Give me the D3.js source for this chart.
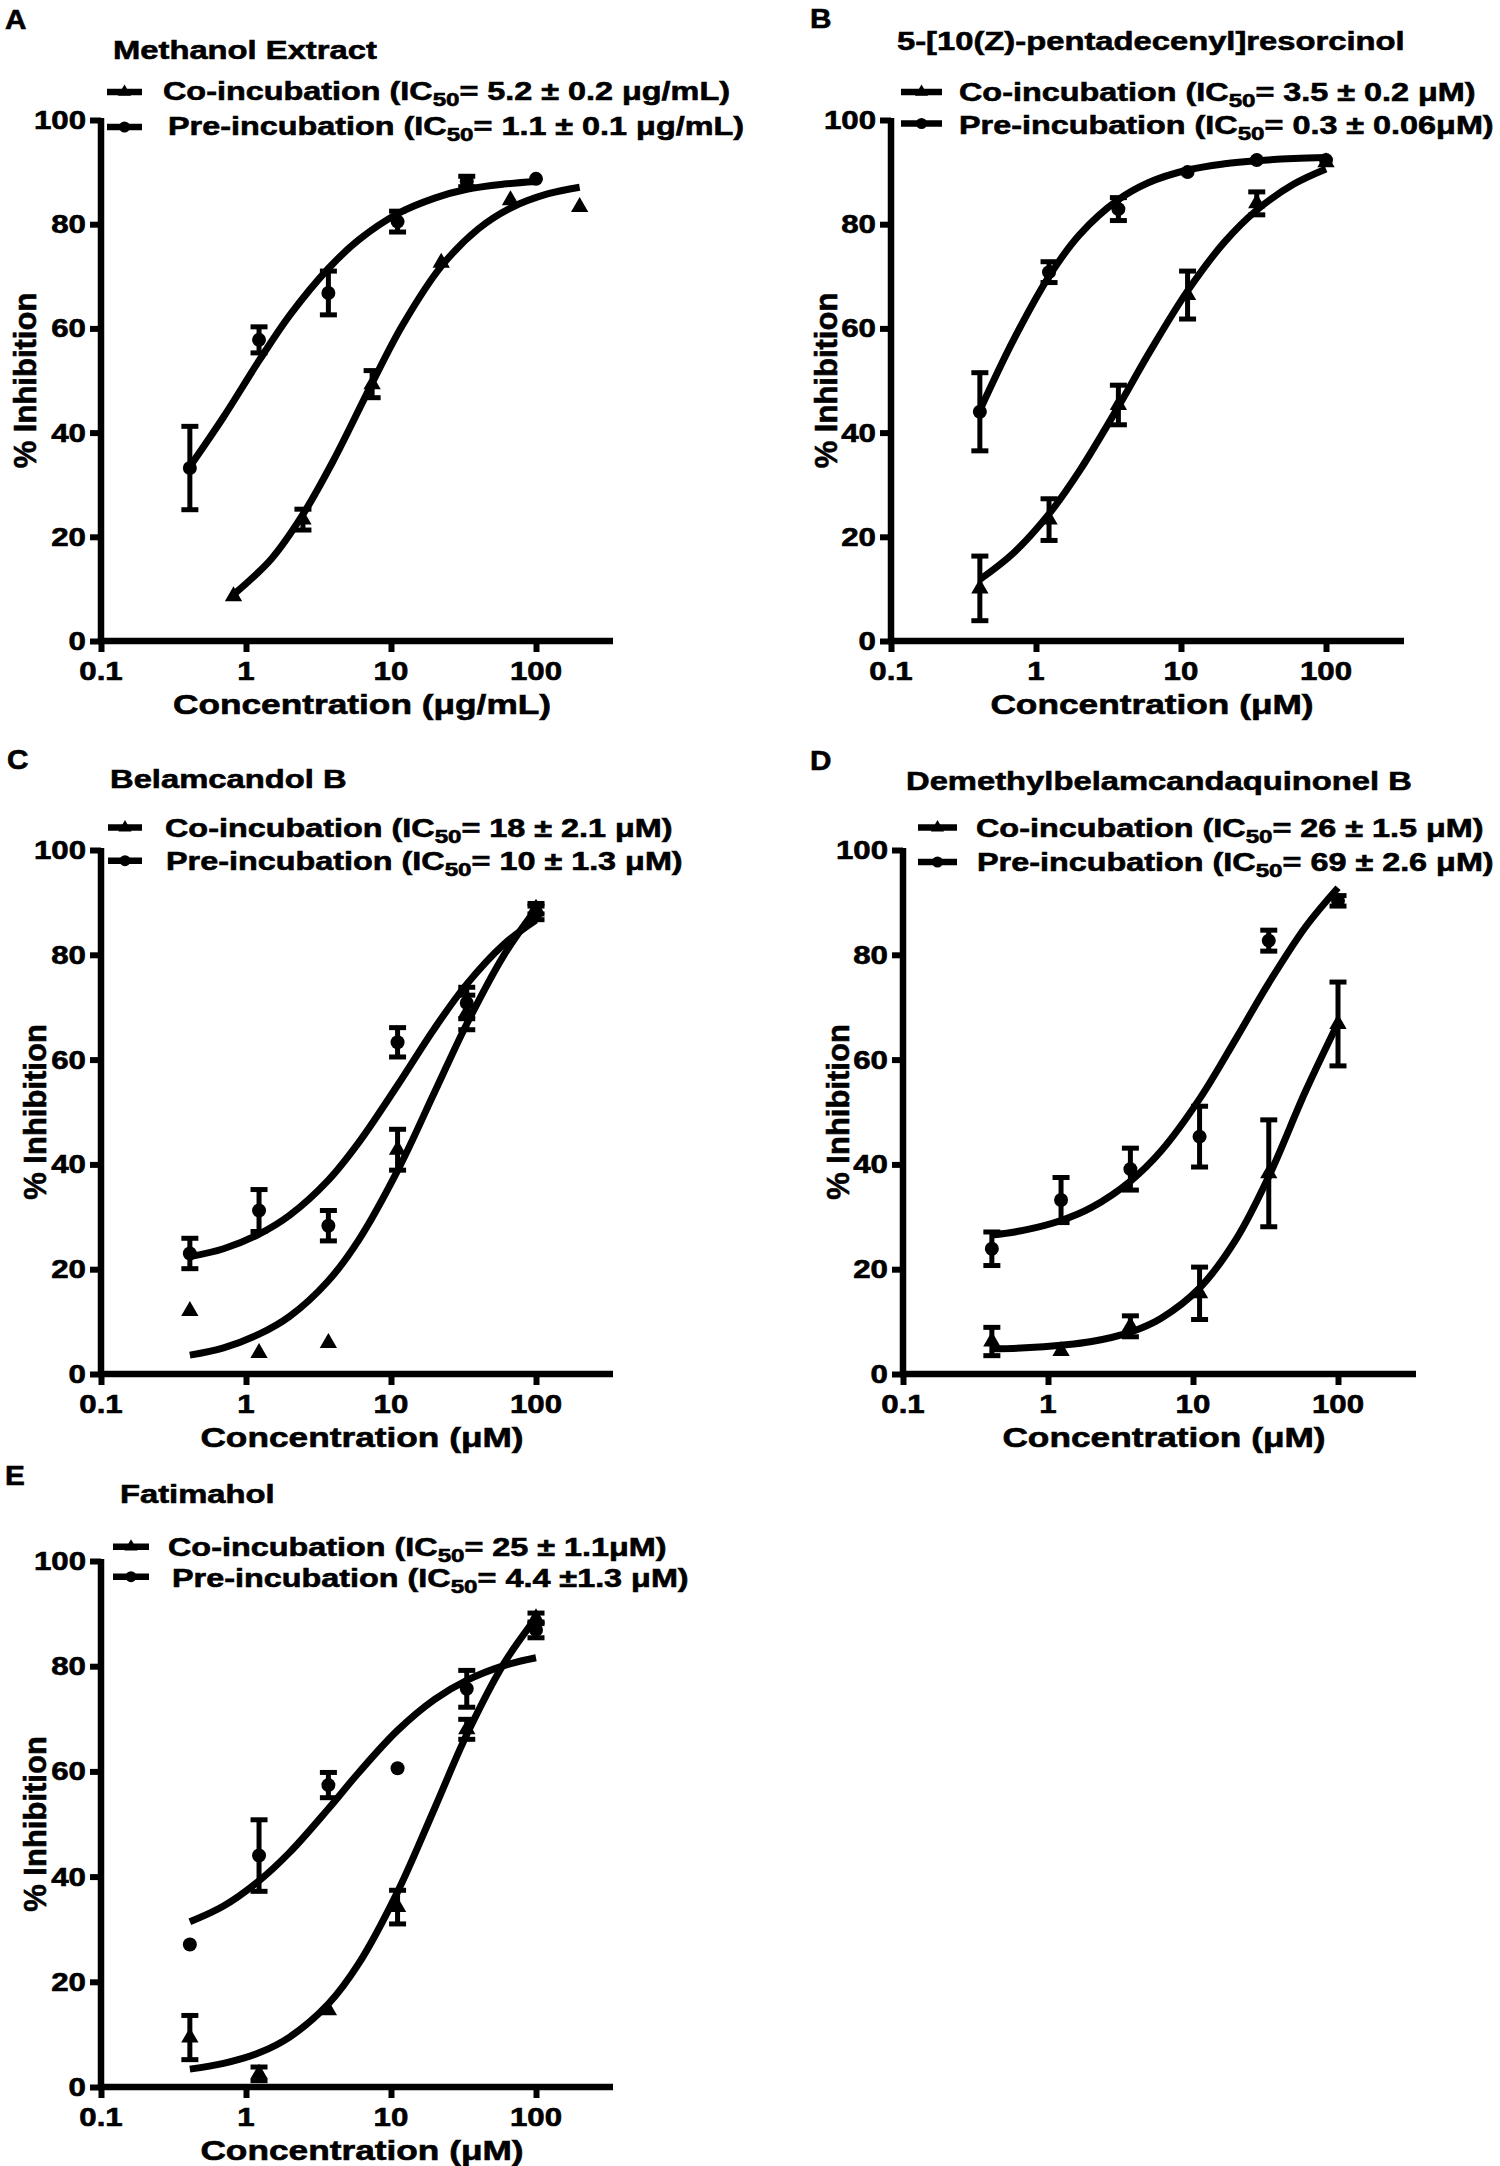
<!DOCTYPE html>
<html>
<head>
<meta charset="utf-8">
<script src="https://cdn.jsdelivr.net/npm/d3@7"></script>
<style>
  body { margin: 0; background: #fff; }
  text { font-family: "Liberation Sans", Arial, sans-serif; font-weight: bold; fill: #000; stroke: #000; stroke-width: 0.6px; }
</style>
</head>
<body>
<svg id="svg" width="1500" height="2166"></svg>
<script>
// concentrations (3-fold dilution series)
const concPre = [0.41, 1.23, 3.7, 11.1, 33.3, 100];
const concCoA = [0.82, 2.47, 7.41, 22.2, 66.7, 200];
const fitConc = [0.41, 0.7, 1.23, 2, 3.7, 6, 11.1, 20, 33.3, 60, 100];
const fitConcCoA = [0.82, 1.5, 2.47, 4, 7.41, 12, 22.2, 40, 66.7, 120, 200];

const panelLetters = ["A", "B", "C", "D", "E"];
const panelTitles = ["Methanol Extract", "5-[10(Z)-pentadecenyl]resorcinol", "Belamcandol B",
  "Demethylbelamcandaquinonel B", "Fatimahol"];
const coIC50 = ["5.2 \u00b1 0.2 \u03bcg/mL)", "3.5 \u00b1 0.2 \u03bcM)", "18 \u00b1 2.1 \u03bcM)",
  "26 \u00b1 1.5 \u03bcM)", "25 \u00b1 1.1\u03bcM)"];
const preIC50 = ["1.1 \u00b1 0.1 \u03bcg/mL)", "0.3 \u00b1 0.06\u03bcM)", "10 \u00b1 1.3 \u03bcM)",
  "69 \u00b1 2.6 \u03bcM)", "4.4 \u00b11.3 \u03bcM)"];
const xTitles = ["Concentration (\u03bcg/mL)", "Concentration (\u03bcM)", "Concentration (\u03bcM)",
  "Concentration (\u03bcM)", "Concentration (\u03bcM)"];
const xTicks = [0.1, 1, 10, 100];
const yTicks = [0, 20, 40, 60, 80, 100];

// % inhibition, mean and error
const aPre = [33.2, 57.8, 66.8, 80.5, 88.2, 88.7];
const aPreErr = [8, 2.5, 4.2, 2, 1, 0];
const aCo = [8.6, 23.3, 49.3, 72.6, 84.6, 83.3];
const aCoErr = [0, 2, 2.6, 0, 0, 0];
const bPre = [44, 70.8, 82.9, 90, 92.3, 92.3];
const bPreErr = [7.5, 2, 2.2, 0, 0, 0];
const bCo = [10.1, 23.3, 45.3, 66.4, 84, 91.9];
const bCoErr = [6.2, 4, 3.8, 4.6, 2.2, 0];
const cPre = [23, 31.2, 28.3, 63.3, 70.8, 88];
const cPreErr = [2.9, 4, 2.9, 2.8, 3, 1.3];
const cCo = [12, 4, 5.9, 42.8, 69, 88.8];
const cCoErr = [0, 0, 0, 3.9, 3.3, 1];
const dPre = [23.9, 33.2, 39.1, 45.3, 82.7, 90.3];
const dPreErr = [3.2, 4.3, 4, 5.8, 2, 1];
const dCo = [6.2, 4.4, 9.1, 15.4, 38.3, 66.8];
const dCoErr = [2.7, 0, 2, 5, 10.2, 8];
const ePre = [27.1, 44, 57.4, 60.6, 75.7, 86.9];
const ePreErr = [0, 6.8, 2.4, 0, 3.5, 1.5];
const eCo = [9.4, 2.5, 14.6, 34.2, 68, 89.1];
const eCoErr = [4.2, 1.3, 0, 3.2, 1.9, 1];

// fitted curves, read at fitConc / fitConcCoA
const aPreFit = [33.5, 43, 53.8, 62.5, 71.5, 77, 82, 85, 86.7, 87.7, 88.2];
const aCoFit = [8.9, 15.8, 24.3, 34.6, 49.5, 60.6, 71.9, 79.1, 83.1, 85.8, 87.1];
const bPreFit = [44.3, 57.8, 70, 78, 84.7, 88, 90.4, 91.6, 92.2, 92.6, 92.8];
const bCoFit = [11.8, 16.9, 24.4, 32.7, 45, 55.2, 67.2, 76.6, 82.7, 87.7, 90.6];
const cPreFit = [22.4, 23.9, 26.7, 30.3, 37, 44.2, 55.1, 66, 74.4, 82, 86.6];
const cCoFit = [3.6, 5.0, 7.6, 11.0, 17.8, 25.6, 38.8, 53.8, 66.8, 79.9, 88.7];
const dPreFit = [26.5, 27.5, 29.3, 31.8, 36.8, 42.5, 52.5, 64.2, 74.6, 85.4, 92.8];
const dCoFit = [4.8, 5.0, 5.5, 6.2, 8.0, 10.6, 16.4, 25.9, 37.7, 54.1, 67.0];
const ePreFit = [31.4, 34.4, 39.2, 44.6, 52.9, 59.8, 67.8, 73.7, 77.3, 80.1, 81.6];
const eCoFit = [3.4, 4.5, 6.5, 9.5, 15.8, 23.5, 37.1, 53, 67, 80.5, 89.2];

const seriesData = [
  { pre: aPre, preErr: aPreErr, co: aCo, coErr: aCoErr, coConc: concCoA, preFit: aPreFit, coFit: aCoFit, coFitConc: fitConcCoA },
  { pre: bPre, preErr: bPreErr, co: bCo, coErr: bCoErr, coConc: concPre, preFit: bPreFit, coFit: bCoFit, coFitConc: fitConc },
  { pre: cPre, preErr: cPreErr, co: cCo, coErr: cCoErr, coConc: concPre, preFit: cPreFit, coFit: cCoFit, coFitConc: fitConc },
  { pre: dPre, preErr: dPreErr, co: dCo, coErr: dCoErr, coConc: concPre, preFit: dPreFit, coFit: dCoFit, coFitConc: fitConc },
  { pre: ePre, preErr: ePreErr, co: eCo, coErr: eCoErr, coConc: concPre, preFit: ePreFit, coFit: eCoFit, coFitConc: fitConc }
];

// panel placement on the page
const layout = [
  { x0: 101, x1: 613, y0: 641, y1: 120, letter: [5, 29], title: [113, 59], legSym: [107, 142], legText: [163, 168], legY: [92, 127], legBase: [100, 135], yTitleX: 36 },
  { x0: 891, x1: 1404, y0: 641, y1: 120, letter: [810, 28], title: [897, 50], legSym: [901, 942], legText: [959, 959], legY: [92, 123.5], legBase: [100.5, 133.6], yTitleX: 837 },
  { x0: 101, x1: 613, y0: 1374, y1: 850, letter: [7, 769], title: [110, 788], legSym: [108, 142], legText: [165, 166], legY: [827.6, 860.7], legBase: [836.8, 870.4], yTitleX: 46 },
  { x0: 903, x1: 1416, y0: 1374, y1: 850, letter: [810, 770], title: [906, 790], legSym: [918, 957], legText: [976, 977], legY: [827.6, 862], legBase: [836.8, 871], yTitleX: 849 },
  { x0: 101, x1: 613, y0: 2087, y1: 1561, letter: [5, 1485], title: [120, 1503], legSym: [113, 149], legText: [168, 172], legY: [1546.8, 1576.7], legBase: [1556, 1587], yTitleX: 46 }
];

const svg = d3.select("#svg");
svg.append("rect").attr("width", 1500).attr("height", 2166).attr("fill", "#fff");

const decadePx = 145;
const triangle = d3.symbol().type(d3.symbolTriangle).size(130);
const triangleSmall = d3.symbol().type(d3.symbolTriangle).size(75);

// text with the wide lettering of the original
function addText(parent, x, y, size, sx, anchor, rot) {
  return parent.append("text")
    .attr("transform", `translate(${x},${y}) rotate(${rot || 0}) scale(${sx},1)`)
    .attr("font-size", size)
    .attr("text-anchor", anchor || "start");
}

function drawPanel(i) {
  const L = layout[i];
  const S = seriesData[i];
  const g = svg.append("g");

  const xMax = Math.pow(10, (L.x1 - L.x0) / decadePx - 1);
  const x = d3.scaleLog().domain([0.1, xMax]).range([L.x0, L.x1]);
  const y = d3.scaleLinear().domain([0, 100]).range([L.y0, L.y1]);

  // axes
  const yAxis = d3.axisLeft(y).tickValues(yTicks).tickSize(11).tickSizeOuter(0).tickFormat("");
  const xAxis = d3.axisBottom(x).tickValues(xTicks).tickSize(11).tickSizeOuter(0).tickFormat("");
  const gy = g.append("g").attr("transform", `translate(${L.x0},0)`).call(yAxis);
  const gx = g.append("g").attr("transform", `translate(0,${L.y0})`).call(xAxis);
  [gx, gy].forEach(a => {
    a.select(".domain").attr("stroke", "#000").attr("stroke-width", 6.5);
    a.selectAll(".tick line").attr("stroke", "#000").attr("stroke-width", 6);
  });
  gx.select(".domain").attr("d", `M${L.x0 - 3},0H${L.x1}`);
  gy.select(".domain").attr("d", `M0,${L.y1 - 2}V${L.y0 + 3}`);

  yTicks.forEach(t => addText(g, L.x0 - 15, y(t) + 9, 25, 1.25, "end").text(t));
  xTicks.forEach(t => addText(g, x(t), L.y0 + 39, 25, 1.25, "middle").text(t));

  addText(g, L.x0 + 261, L.y0 + 73, 28, 1.26, "middle").text(xTitles[i]);
  addText(g, L.yTitleX, (L.y0 + L.y1) / 2, 31, 1.0, "middle", -90).text("% Inhibition");

  addText(g, L.letter[0], L.letter[1], 27, 1.1).text(panelLetters[i]);
  addText(g, L.title[0], L.title[1], 26, 1.26).text(panelTitles[i]);

  // legend
  const legNames = ["Co-incubation (IC", "Pre-incubation (IC"];
  const legVals = [coIC50[i], preIC50[i]];
  [0, 1].forEach(k => {
    g.append("line")
      .attr("x1", L.legSym[0]).attr("x2", L.legSym[1])
      .attr("y1", L.legY[k]).attr("y2", L.legY[k])
      .attr("stroke", "#000").attr("stroke-width", 6.5);
    const cx = (L.legSym[0] + L.legSym[1]) / 2;
    if (k === 0) {
      g.append("path").attr("d", triangleSmall).attr("transform", `translate(${cx},${L.legY[k]})`);
    } else {
      g.append("circle").attr("cx", cx).attr("cy", L.legY[k]).attr("r", 5.5);
    }
    const t = addText(g, L.legText[k], L.legBase[k], 25.5, 1.27);
    t.append("tspan").text(legNames[k]);
    t.append("tspan").attr("font-size", 19).attr("dy", 6).text("50");
    t.append("tspan").attr("dy", -6).text("= " + legVals[k]);
  });

  const line = d3.line()
    .x(d => x(d[0]))
    .y(d => y(d[1]))
    .curve(d3.curveCatmullRom.alpha(0.5));

  const curves = [
    d3.zip(S.coFitConc, S.coFit),
    d3.zip(fitConc, S.preFit)
  ];
  g.selectAll("path.fit").data(curves).enter().append("path")
    .attr("class", "fit")
    .attr("d", line)
    .attr("fill", "none")
    .attr("stroke", "#000")
    .attr("stroke-width", 7)
    .attr("stroke-linecap", "butt");

  // error bars
  const bars = [];
  S.pre.forEach((v, j) => { if (S.preErr[j] > 0) bars.push({ c: concPre[j], v: v, e: S.preErr[j] }); });
  S.co.forEach((v, j) => { if (S.coErr[j] > 0) bars.push({ c: S.coConc[j], v: v, e: S.coErr[j] }); });
  const eb = g.selectAll("g.eb").data(bars).enter().append("g").attr("class", "eb");
  eb.append("line")
    .attr("x1", d => x(d.c)).attr("x2", d => x(d.c))
    .attr("y1", d => y(d.v - d.e)).attr("y2", d => y(d.v + d.e))
    .attr("stroke", "#000").attr("stroke-width", 5);
  [-1, 1].forEach(s => {
    eb.append("line")
      .attr("x1", d => x(d.c) - 8.5).attr("x2", d => x(d.c) + 8.5)
      .attr("y1", d => y(d.v + s * d.e)).attr("y2", d => y(d.v + s * d.e))
      .attr("stroke", "#000").attr("stroke-width", 5);
  });

  // markers
  g.selectAll("circle.pre").data(S.pre).enter().append("circle")
    .attr("class", "pre")
    .attr("cx", (d, j) => x(concPre[j]))
    .attr("cy", d => y(d))
    .attr("r", 7);
  g.selectAll("path.co").data(S.co).enter().append("path")
    .attr("class", "co")
    .attr("d", triangle)
    .attr("transform", (d, j) => `translate(${x(S.coConc[j])},${y(d)})`);
}

layout.forEach((L, i) => drawPanel(i));
</script>
</body>
</html>
